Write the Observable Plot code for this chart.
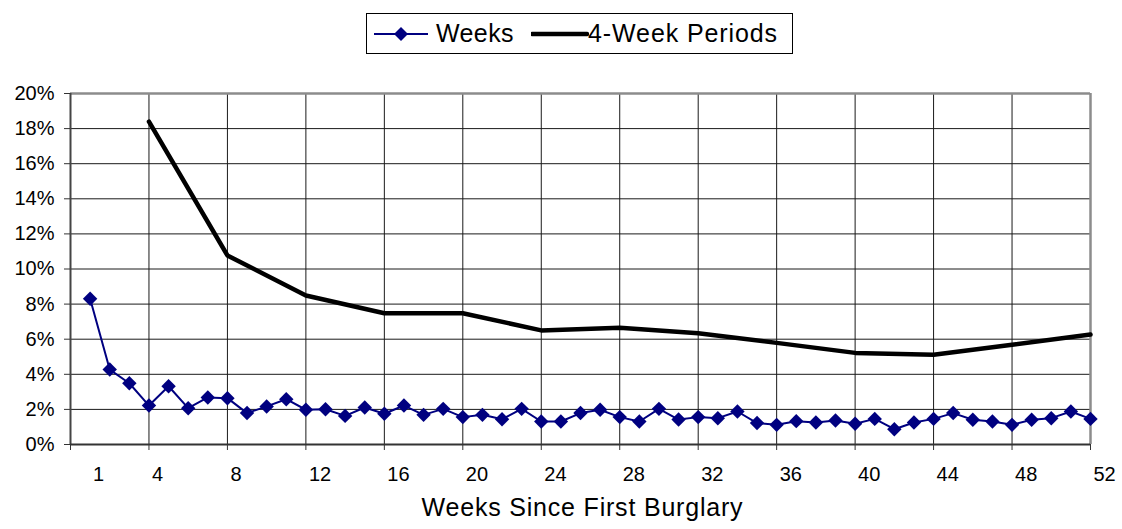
<!DOCTYPE html>
<html><head><meta charset="utf-8">
<script src="https://cdn.jsdelivr.net/npm/d3@7"></script>
<script src="https://cdn.jsdelivr.net/npm/@observablehq/plot@0.6"></script>
<style>
body{margin:0;background:#fff;font-family:"Liberation Sans",Arial,sans-serif;}
#wrap{width:1122px;height:529px;position:relative;overflow:hidden;}
#legend{position:absolute;left:366px;top:13px;width:427px;height:41px;border:1px solid #000;box-sizing:border-box;font-size:25px;color:#000;}
#legend .it{position:absolute;top:0;height:39px;line-height:39px;white-space:nowrap;}
#legend svg{position:absolute;}
#chart{position:absolute;left:0;top:60px;}
</style></head><body>
<div id="wrap"><div id="legend"></div><div id="chart"></div></div>
<script>
const weeks = [1,2,3,4,5,6,7,8,9,10,11,12,13,14,15,16,17,18,19,20,21,22,23,24,25,26,
  27,28,29,30,31,32,33,34,35,36,37,38,39,40,41,42,43,44,45,46,47,48,49,50,51,52];
const weeklyPct = [8.30,4.27,3.49,2.22,3.32,2.07,2.68,2.64,1.79,2.17,2.58,1.98,2.01,1.63,2.11,1.75,
  2.22,1.69,2.03,1.56,1.69,1.44,2.03,1.31,1.31,1.79,1.98,1.56,1.31,2.03,1.42,1.56,1.50,1.88,1.22,1.12,
  1.33,1.25,1.37,1.18,1.46,0.87,1.25,1.46,1.79,1.41,1.31,1.12,1.41,1.50,1.88,1.46];
const periodEnds = [4,8,12,16,20,24,28,32,36,40,44,48,52];
const periodPct = [18.40,10.77,8.49,7.48,7.48,6.50,6.65,6.34,5.79,5.22,5.11,5.68,6.27];
const xTickMarks = [0,4,8,12,16,20,24,28,32,36,40,44,48,52];
const xTickLabels = [1,4,8,12,16,20,24,28,32,36,40,44,48,52];
const yTicks = [0,2,4,6,8,10,12,14,16,18,20];
const seriesNames = ["Weeks","4-Week Periods"];
const axisTitle = "Weeks Since First Burglary";
const navy = "#000080";

const weekData = weeks.map((w,i)=>({w, v: weeklyPct[i]}));
const periodData = periodEnds.map((w,i)=>({w, v: periodPct[i]}));

const chart = Plot.plot({
  width: 1122, height: 469,
  marginLeft: 70, marginRight: 32, marginTop: 33, marginBottom: 85,
  style: {fontFamily: '"Liberation Sans", Arial, sans-serif', color: "#000", background: "#fff"},
  x: {type: "linear", domain: [0,52]},
  y: {domain: [0,20]},
  marks: [
    Plot.gridY(yTicks.filter(d=>d>0 && d<20), {stroke:"#1a1a1a", strokeOpacity:1, strokeWidth:1}),
    Plot.gridX(xTickMarks.filter(d=>d>0 && d<52), {stroke:"#1a1a1a", strokeOpacity:1, strokeWidth:1}),
    Plot.ruleY([20], {stroke:"#8c8c8c", strokeWidth:2.5}),
    Plot.ruleX([52], {stroke:"#8c8c8c", strokeWidth:2.5}),
    Plot.ruleX([0], {stroke:"#444", strokeWidth:2}),
    Plot.ruleY([0], {stroke:"#333", strokeWidth:2}),
    Plot.axisY(yTicks, {tickSize:6, tickPadding:10, fontSize:20, tickFormat: d=>d+"%", label:null, stroke:"#333"}),
    Plot.axisX(xTickMarks, {tickSize:6, tickFormat: ()=>"", label:null, stroke:"#333"}),
    Plot.text(xTickLabels, {x: d=>d, frameAnchor:"bottom", dy:36, dx:3, textAnchor:"start", fontSize:20, text: d=>String(d)}),
    Plot.text([axisTitle], {frameAnchor:"bottom", dy:71, dx:2, fontSize:25, text: d=>d}),
    Plot.line(periodData, {x:"w", y:"v", stroke:"#000", strokeWidth:4.5, strokeLinejoin:"round"}),
    Plot.line(weekData, {x:"w", y:"v", stroke:navy, strokeWidth:2}),
    Plot.dot(weekData, {x:"w", y:"v", symbol:"diamond2", r:6.5, fill:navy, stroke:"none"})
  ]
});
document.getElementById("chart").appendChild(chart);
chart.querySelectorAll("text").forEach(t => {
  if (t.textContent === axisTitle) t.style.letterSpacing = "0.8px";
});

// legend
const lg = document.getElementById("legend");
lg.innerHTML = `
<svg style="left:7px;top:9px" width="56" height="22"><line x1="0" y1="11" x2="54" y2="11" stroke="${navy}" stroke-width="2"/><polygon points="27,4 34,11 27,18 20,11" fill="${navy}"/></svg>
<div class="it" style="left:69px;letter-spacing:0.4px">${seriesNames[0]}</div>
<svg style="left:164px;top:9px" width="58" height="22"><line x1="1" y1="11" x2="56" y2="11" stroke="#000" stroke-width="4.5" stroke-linecap="round"/></svg>
<div class="it" style="left:221px;letter-spacing:0.9px">${seriesNames[1]}</div>`;
</script>
</body></html>
